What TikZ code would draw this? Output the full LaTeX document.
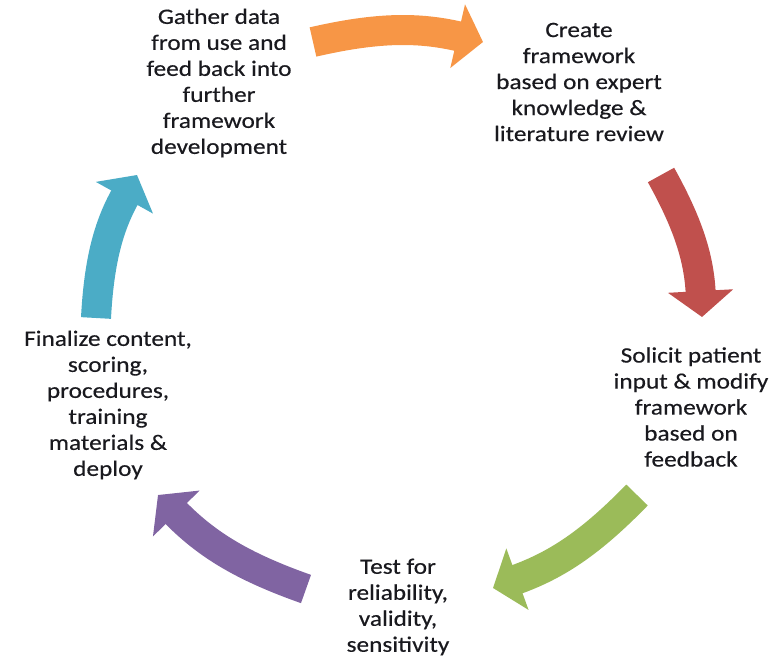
\documentclass[tikz,border=0pt]{standalone}
\usepackage{fontspec}
\setmainfont{Carlito}[FakeStretch=1.15, FakeBold=0.4]
\usetikzlibrary{arrows.meta, positioning}

\begin{document}
\begin{tikzpicture}[>=latex, x=1pt, y=-1pt,
    phase/.style={align=center, text=textdark, inner sep=0pt, font=\fontsize{22}{26}\selectfont},
    cyclearrow/.style={line width=30pt, -{Triangle[length=26pt, width=64pt]}}]

    % Define colors
    \definecolor{textdark}{RGB}{25, 25, 30}
    \definecolor{c_orange}{RGB}{247, 150, 70}
    \definecolor{c_red}{RGB}{192, 80, 77}
    \definecolor{c_green}{RGB}{155, 187, 89}
    \definecolor{c_purple}{RGB}{128, 100, 162}
    \definecolor{c_blue}{RGB}{75, 172, 198}

    \useasboundingbox (0,0) rectangle (774,660);

    % Steps of the cycle
    \node[phase] (gather) at (219, 83) {Gather data\\from use and\\feed back into\\further\\framework\\development};
    \node[phase] (create) at (579, 82) {Create\\framework\\based on expert\\knowledge \&\\literature review};
    \node[phase] (solicit) at (691, 407) {Solicit patient\\input \& modify\\framework\\based on\\feedback};
    \node[phase] (test) at (398, 607) {Test for\\reliability,\\validity,\\sensitivity};
    \node[phase] (finalize) at (108, 405) {Finalize content,\\scoring,\\procedures,\\training\\materials \&\\deploy};

    % Arrow ends
    \coordinate (orangeTail) at (313, 42);
    \coordinate (orangeTip) at (483, 42);
    \coordinate (redTail) at (661, 175);
    \coordinate (redTip) at (702, 317);
    \coordinate (greenTail) at (637, 495);
    \coordinate (greenTip) at (493, 588);
    \coordinate (purpleTail) at (306, 589);
    \coordinate (purpleTip) at (158, 495);
    \coordinate (blueTail) at (96, 318);
    \coordinate (blueTip) at (137, 175);

    % Arrows between the steps
    \draw[cyclearrow, c_orange] (orangeTail) to[bend left=13] (orangeTip);
    \draw[cyclearrow, c_red] (redTail) to[bend left=13] (redTip);
    \draw[cyclearrow, c_green] (greenTail) to[bend left=13] (greenTip);
    \draw[cyclearrow, c_purple] (purpleTail) to[bend left=13] (purpleTip);
    \draw[cyclearrow, c_blue] (blueTail) to[bend left=13] (blueTip);

\end{tikzpicture}
\end{document}
